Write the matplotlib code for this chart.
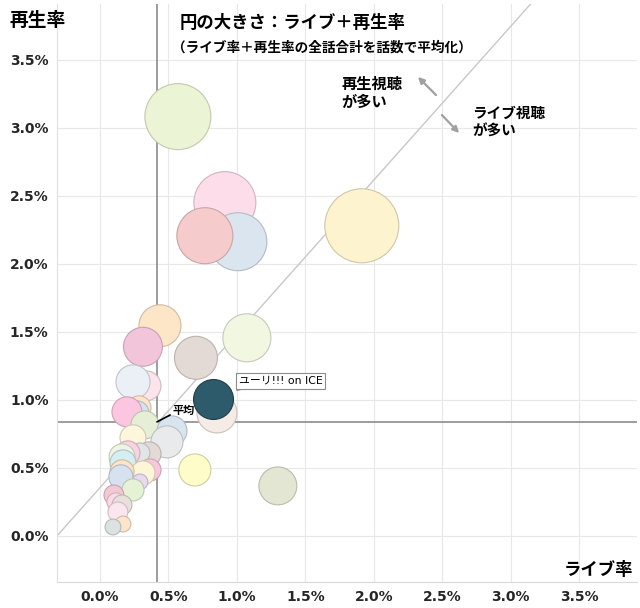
import numpy as np
import matplotlib
matplotlib.use("Agg")
import matplotlib.pyplot as plt
from matplotlib.colors import to_rgb

plt.rcParams["font.family"] = ["Noto Sans CJK JP", "DejaVu Sans"]

# ライブ率 (%), 再生率 (%), 円の大きさ (ライブ+再生率), 色
live = [0.569, 0.912, 1.007, 0.766, 1.912, 0.438, 1.073, 0.314, 0.701, 0.336,
        0.241, 0.854, 0.285, 0.270, 0.197, 0.328, 0.526, 0.489, 0.241, 0.358,
        0.292, 0.204, 0.161, 0.168, 0.693, 0.365, 0.314, 0.161, 0.153, 0.292,
        1.299, 0.241, 0.102, 0.117, 0.161, 0.131, 0.168, 0.095]
play = [3.081, 2.449, 2.162, 2.206, 2.279, 1.544, 1.456, 1.390, 1.309, 1.103,
        1.132, 0.904, 0.941, 0.904, 0.912, 0.816, 0.772, 0.691, 0.721, 0.603,
        0.610, 0.610, 0.581, 0.537, 0.485, 0.485, 0.463, 0.471, 0.434, 0.397,
        0.368, 0.338, 0.301, 0.250, 0.228, 0.176, 0.088, 0.066]
total = [3.30, 2.91, 2.55, 2.38, 4.15, 1.34, 1.75, 1.15, 1.40, 0.68,
         0.88, 1.21, 0.44, 0.44, 0.68, 0.59, 0.68, 0.78, 0.51, 0.44,
         0.30, 0.44, 0.51, 0.51, 0.78, 0.37, 0.44, 0.44, 0.44, 0.19,
         1.09, 0.37, 0.30, 0.25, 0.30, 0.30, 0.19, 0.19]
colors = ["#EBF5D5", "#FDDDE9", "#DAE5F0", "#F5CBCB", "#FDF3CE", "#FDE5C8",
          "#F1F7E1", "#F3C5DB", "#E3DAD5", "#FCE4EC", "#EAF0F5", "#F5ECE6",
          "#FDE5C8", "#D5E3F0", "#FCC5E0", "#E5EFD5", "#D8E4EE", "#E9EAEB",
          "#FDF6DD", "#E3DAD5", "#E2E4E6", "#FAD3E3", "#EFF5E3", "#D5EEF0",
          "#FEFCC8", "#FAC5DD", "#FDF5D8", "#FDE3C8", "#D6E2F0", "#E5DAF0",
          "#E2E6D2", "#E6F2D5", "#F3C8D5", "#FBD9E6", "#E8E0DA", "#FDE5F0",
          "#FDE5CC", "#DCE2E2"]

# ユーリ!!! on ICE
yuri = (0.825, 1.007, 1.21)
avg_live, avg_play = 0.416, 0.838
diag_x = [-0.314, 3.146]
diag_y = [0.0, 3.91]

ticks = [0.0, 0.5, 1.0, 1.5, 2.0, 2.5, 3.0, 3.5]


def darker(c, f=0.82):
    return tuple(v * f for v in to_rgb(c))


fig = plt.figure(figsize=(6.4, 6.08), dpi=100)
ax = fig.add_axes([0.089, 0.0428, 0.906, 0.951])

ax.set_xlim(-0.314, 3.92)
ax.set_ylim(-0.338, 3.91)

for t in ticks:
    ax.axvline(t, color="#E8E8E8", lw=0.8, zorder=0)
    ax.axhline(t, color="#E8E8E8", lw=0.8, zorder=0)

ax.plot(diag_x, diag_y, color="#C8C8C8", lw=1, zorder=1)
ax.axvline(avg_live, color="#8C8C8C", lw=1.2, zorder=1)
ax.axhline(avg_play, color="#8C8C8C", lw=1.2, zorder=1)

k = 684
ax.scatter(live, play, s=np.array(total) * k, c=colors,
           edgecolors=[darker(c) for c in colors], linewidths=0.8, zorder=2)
ax.scatter([yuri[0]], [yuri[1]], s=yuri[2] * k, c="#2D5B6B",
           edgecolors="#1E3F4A", linewidths=0.8, zorder=3)

ax.annotate("ユーリ!!! on ICE", xy=(0.98, 1.065), xytext=(1.321, 1.14),
            fontsize=7.8, ha="center", va="center", zorder=5,
            family=["DejaVu Sans", "Noto Sans CJK JP"],
            bbox=dict(boxstyle="square,pad=0.25", fc="white", ec="#8C8C8C", lw=0.8),
            arrowprops=dict(arrowstyle="-", color="#8C8C8C", lw=0.8))
ax.annotate("平均", xy=(avg_live, avg_play), xytext=(0.533, 0.919),
            fontsize=8, fontweight="bold", ha="left", va="center", zorder=5,
            arrowprops=dict(arrowstyle="-", color="black", lw=1.2,
                            shrinkA=0, shrinkB=0, relpos=(0, 0.3)))

ax.set_xticks(ticks)
ax.set_yticks(ticks)
ax.set_xticklabels([f"{t:.1f}%" for t in ticks])
ax.set_yticklabels([f"{t:.1f}%" for t in ticks])
for lab in ax.get_xticklabels() + ax.get_yticklabels():
    lab.set_fontfamily("DejaVu Sans")
    lab.set_fontweight("bold")
    lab.set_fontsize(10)
    lab.set_color("#262626")
ax.tick_params(length=0, pad=6)

for s in ["top", "right"]:
    ax.spines[s].set_visible(False)
ax.spines["left"].set_color("#E0E0E0")
ax.spines["bottom"].set_color("#D9D9D9")

fig.text(9 / 640, 1 - 20 / 608, "再生率", fontsize=13.5, fontweight="bold",
         va="center", ha="left")
fig.text(633 / 640, 1 - 570 / 608, "ライブ率", fontsize=12.5, fontweight="bold",
         va="center", ha="right")
fig.text(180 / 640, 1 - 23 / 608, "円の大きさ：ライブ＋再生率", fontsize=12.5,
         fontweight="bold", va="center", ha="left")
fig.text(172 / 640, 1 - 48 / 608, "（ライブ率＋再生率の全話合計を話数で平均化）",
         fontsize=9.8, fontweight="bold", va="center", ha="left")
fig.text(341 / 640, 1 - 93 / 608, "再生視聴\nが多い", fontsize=11,
         fontweight="bold", va="center", ha="left", linespacing=1.15)
fig.text(472 / 640, 1 - 122 / 608, "ライブ視聴\nが多い", fontsize=10.5,
         fontweight="bold", va="center", ha="left", linespacing=1.15)

arrow = dict(arrowstyle="-|>", color="#A0A0A0", lw=1.6, mutation_scale=9)
fig.add_artist(matplotlib.patches.FancyArrowPatch(
    (438 / 640, 1 - 97 / 608), (416 / 640, 1 - 75 / 608),
    transform=fig.transFigure, **arrow))
fig.add_artist(matplotlib.patches.FancyArrowPatch(
    (440 / 640, 1 - 113 / 608), (461 / 640, 1 - 135 / 608),
    transform=fig.transFigure, **arrow))

fig.savefig("out.png", dpi=100)
